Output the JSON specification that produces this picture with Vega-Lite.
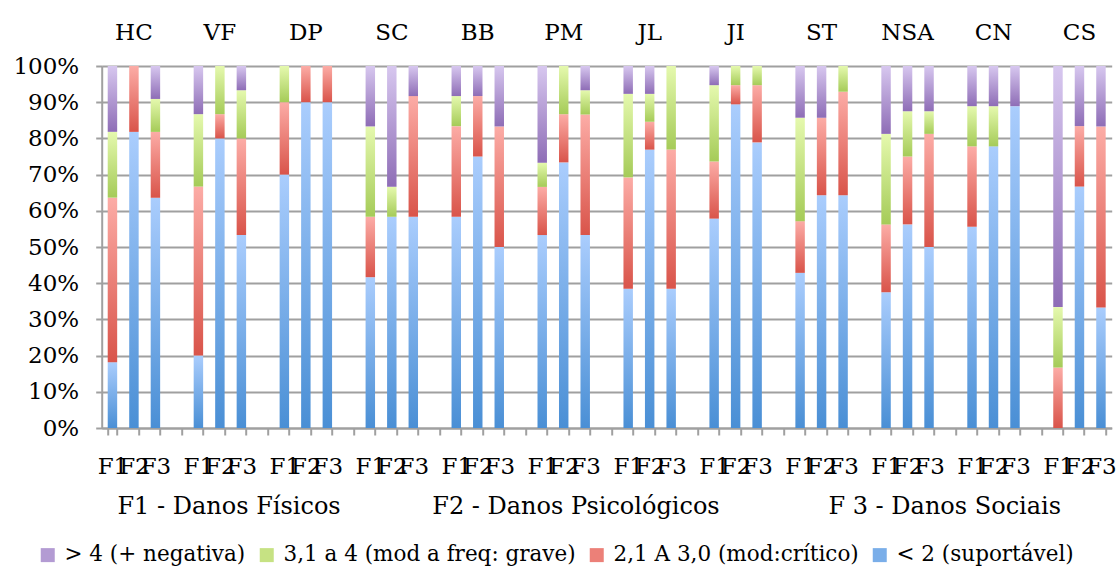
{
  "$schema": "https://vega.github.io/schema/vega-lite/v6.json",
  "width": 1010,
  "height": 362,
  "autosize": "none",
  "padding": {"left": 101.7, "top": 66, "right": 4.3, "bottom": 140},
  "background": "white",
  "config": {
    "view": {"stroke": null},
    "font": "DejaVu Serif"
  },
  "data": {
    "values": [
      {"slot": "HC|F1", "level": "< 2 (suportável)", "v": 18.2},
      {"slot": "HC|F1", "level": "2,1 A 3,0 (mod:crítico)", "v": 45.5},
      {"slot": "HC|F1", "level": "3,1 a 4 (mod a freq: grave)", "v": 18.2},
      {"slot": "HC|F1", "level": "> 4 (+ negativa)", "v": 18.2},
      {"slot": "HC|F2", "level": "< 2 (suportável)", "v": 81.8},
      {"slot": "HC|F2", "level": "2,1 A 3,0 (mod:crítico)", "v": 18.2},
      {"slot": "HC|F3", "level": "< 2 (suportável)", "v": 63.6},
      {"slot": "HC|F3", "level": "2,1 A 3,0 (mod:crítico)", "v": 18.2},
      {"slot": "HC|F3", "level": "3,1 a 4 (mod a freq: grave)", "v": 9.1},
      {"slot": "HC|F3", "level": "> 4 (+ negativa)", "v": 9.1},
      {"slot": "VF|F1", "level": "< 2 (suportável)", "v": 20},
      {"slot": "VF|F1", "level": "2,1 A 3,0 (mod:crítico)", "v": 46.7},
      {"slot": "VF|F1", "level": "3,1 a 4 (mod a freq: grave)", "v": 20},
      {"slot": "VF|F1", "level": "> 4 (+ negativa)", "v": 13.3},
      {"slot": "VF|F2", "level": "< 2 (suportável)", "v": 80},
      {"slot": "VF|F2", "level": "2,1 A 3,0 (mod:crítico)", "v": 6.7},
      {"slot": "VF|F2", "level": "3,1 a 4 (mod a freq: grave)", "v": 13.3},
      {"slot": "VF|F3", "level": "< 2 (suportável)", "v": 53.3},
      {"slot": "VF|F3", "level": "2,1 A 3,0 (mod:crítico)", "v": 26.7},
      {"slot": "VF|F3", "level": "3,1 a 4 (mod a freq: grave)", "v": 13.3},
      {"slot": "VF|F3", "level": "> 4 (+ negativa)", "v": 6.7},
      {"slot": "DP|F1", "level": "< 2 (suportável)", "v": 70},
      {"slot": "DP|F1", "level": "2,1 A 3,0 (mod:crítico)", "v": 20},
      {"slot": "DP|F1", "level": "3,1 a 4 (mod a freq: grave)", "v": 10},
      {"slot": "DP|F2", "level": "< 2 (suportável)", "v": 90},
      {"slot": "DP|F2", "level": "2,1 A 3,0 (mod:crítico)", "v": 10},
      {"slot": "DP|F3", "level": "< 2 (suportável)", "v": 90},
      {"slot": "DP|F3", "level": "2,1 A 3,0 (mod:crítico)", "v": 10},
      {"slot": "SC|F1", "level": "< 2 (suportável)", "v": 41.7},
      {"slot": "SC|F1", "level": "2,1 A 3,0 (mod:crítico)", "v": 16.7},
      {"slot": "SC|F1", "level": "3,1 a 4 (mod a freq: grave)", "v": 25},
      {"slot": "SC|F1", "level": "> 4 (+ negativa)", "v": 16.7},
      {"slot": "SC|F2", "level": "< 2 (suportável)", "v": 58.3},
      {"slot": "SC|F2", "level": "3,1 a 4 (mod a freq: grave)", "v": 8.3},
      {"slot": "SC|F2", "level": "> 4 (+ negativa)", "v": 33.3},
      {"slot": "SC|F3", "level": "< 2 (suportável)", "v": 58.3},
      {"slot": "SC|F3", "level": "2,1 A 3,0 (mod:crítico)", "v": 33.3},
      {"slot": "SC|F3", "level": "> 4 (+ negativa)", "v": 8.3},
      {"slot": "BB|F1", "level": "< 2 (suportável)", "v": 58.3},
      {"slot": "BB|F1", "level": "2,1 A 3,0 (mod:crítico)", "v": 25},
      {"slot": "BB|F1", "level": "3,1 a 4 (mod a freq: grave)", "v": 8.3},
      {"slot": "BB|F1", "level": "> 4 (+ negativa)", "v": 8.3},
      {"slot": "BB|F2", "level": "< 2 (suportável)", "v": 75},
      {"slot": "BB|F2", "level": "2,1 A 3,0 (mod:crítico)", "v": 16.7},
      {"slot": "BB|F2", "level": "> 4 (+ negativa)", "v": 8.3},
      {"slot": "BB|F3", "level": "< 2 (suportável)", "v": 50},
      {"slot": "BB|F3", "level": "2,1 A 3,0 (mod:crítico)", "v": 33.3},
      {"slot": "BB|F3", "level": "> 4 (+ negativa)", "v": 16.7},
      {"slot": "PM|F1", "level": "< 2 (suportável)", "v": 53.3},
      {"slot": "PM|F1", "level": "2,1 A 3,0 (mod:crítico)", "v": 13.3},
      {"slot": "PM|F1", "level": "3,1 a 4 (mod a freq: grave)", "v": 6.7},
      {"slot": "PM|F1", "level": "> 4 (+ negativa)", "v": 26.7},
      {"slot": "PM|F2", "level": "< 2 (suportável)", "v": 73.3},
      {"slot": "PM|F2", "level": "2,1 A 3,0 (mod:crítico)", "v": 13.3},
      {"slot": "PM|F2", "level": "3,1 a 4 (mod a freq: grave)", "v": 13.3},
      {"slot": "PM|F3", "level": "< 2 (suportável)", "v": 53.3},
      {"slot": "PM|F3", "level": "2,1 A 3,0 (mod:crítico)", "v": 33.3},
      {"slot": "PM|F3", "level": "3,1 a 4 (mod a freq: grave)", "v": 6.7},
      {"slot": "PM|F3", "level": "> 4 (+ negativa)", "v": 6.7},
      {"slot": "JL|F1", "level": "< 2 (suportável)", "v": 38.5},
      {"slot": "JL|F1", "level": "2,1 A 3,0 (mod:crítico)", "v": 30.8},
      {"slot": "JL|F1", "level": "3,1 a 4 (mod a freq: grave)", "v": 23.1},
      {"slot": "JL|F1", "level": "> 4 (+ negativa)", "v": 7.7},
      {"slot": "JL|F2", "level": "< 2 (suportável)", "v": 76.9},
      {"slot": "JL|F2", "level": "2,1 A 3,0 (mod:crítico)", "v": 7.7},
      {"slot": "JL|F2", "level": "3,1 a 4 (mod a freq: grave)", "v": 7.7},
      {"slot": "JL|F2", "level": "> 4 (+ negativa)", "v": 7.7},
      {"slot": "JL|F3", "level": "< 2 (suportável)", "v": 38.5},
      {"slot": "JL|F3", "level": "2,1 A 3,0 (mod:crítico)", "v": 38.5},
      {"slot": "JL|F3", "level": "3,1 a 4 (mod a freq: grave)", "v": 23.1},
      {"slot": "JI|F1", "level": "< 2 (suportável)", "v": 57.9},
      {"slot": "JI|F1", "level": "2,1 A 3,0 (mod:crítico)", "v": 15.8},
      {"slot": "JI|F1", "level": "3,1 a 4 (mod a freq: grave)", "v": 21.1},
      {"slot": "JI|F1", "level": "> 4 (+ negativa)", "v": 5.3},
      {"slot": "JI|F2", "level": "< 2 (suportável)", "v": 89.5},
      {"slot": "JI|F2", "level": "2,1 A 3,0 (mod:crítico)", "v": 5.3},
      {"slot": "JI|F2", "level": "3,1 a 4 (mod a freq: grave)", "v": 5.3},
      {"slot": "JI|F3", "level": "< 2 (suportável)", "v": 78.9},
      {"slot": "JI|F3", "level": "2,1 A 3,0 (mod:crítico)", "v": 15.8},
      {"slot": "JI|F3", "level": "3,1 a 4 (mod a freq: grave)", "v": 5.3},
      {"slot": "ST|F1", "level": "< 2 (suportável)", "v": 42.9},
      {"slot": "ST|F1", "level": "2,1 A 3,0 (mod:crítico)", "v": 14.3},
      {"slot": "ST|F1", "level": "3,1 a 4 (mod a freq: grave)", "v": 28.6},
      {"slot": "ST|F1", "level": "> 4 (+ negativa)", "v": 14.3},
      {"slot": "ST|F2", "level": "< 2 (suportável)", "v": 64.3},
      {"slot": "ST|F2", "level": "2,1 A 3,0 (mod:crítico)", "v": 21.4},
      {"slot": "ST|F2", "level": "> 4 (+ negativa)", "v": 14.3},
      {"slot": "ST|F3", "level": "< 2 (suportável)", "v": 64.3},
      {"slot": "ST|F3", "level": "2,1 A 3,0 (mod:crítico)", "v": 28.6},
      {"slot": "ST|F3", "level": "3,1 a 4 (mod a freq: grave)", "v": 7.1},
      {"slot": "NSA|F1", "level": "< 2 (suportável)", "v": 37.5},
      {"slot": "NSA|F1", "level": "2,1 A 3,0 (mod:crítico)", "v": 18.75},
      {"slot": "NSA|F1", "level": "3,1 a 4 (mod a freq: grave)", "v": 25},
      {"slot": "NSA|F1", "level": "> 4 (+ negativa)", "v": 18.75},
      {"slot": "NSA|F2", "level": "< 2 (suportável)", "v": 56.25},
      {"slot": "NSA|F2", "level": "2,1 A 3,0 (mod:crítico)", "v": 18.75},
      {"slot": "NSA|F2", "level": "3,1 a 4 (mod a freq: grave)", "v": 12.5},
      {"slot": "NSA|F2", "level": "> 4 (+ negativa)", "v": 12.5},
      {"slot": "NSA|F3", "level": "< 2 (suportável)", "v": 50},
      {"slot": "NSA|F3", "level": "2,1 A 3,0 (mod:crítico)", "v": 31.25},
      {"slot": "NSA|F3", "level": "3,1 a 4 (mod a freq: grave)", "v": 6.25},
      {"slot": "NSA|F3", "level": "> 4 (+ negativa)", "v": 12.5},
      {"slot": "CN|F1", "level": "< 2 (suportável)", "v": 55.6},
      {"slot": "CN|F1", "level": "2,1 A 3,0 (mod:crítico)", "v": 22.2},
      {"slot": "CN|F1", "level": "3,1 a 4 (mod a freq: grave)", "v": 11.1},
      {"slot": "CN|F1", "level": "> 4 (+ negativa)", "v": 11.1},
      {"slot": "CN|F2", "level": "< 2 (suportável)", "v": 77.8},
      {"slot": "CN|F2", "level": "3,1 a 4 (mod a freq: grave)", "v": 11.1},
      {"slot": "CN|F2", "level": "> 4 (+ negativa)", "v": 11.1},
      {"slot": "CN|F3", "level": "< 2 (suportável)", "v": 88.9},
      {"slot": "CN|F3", "level": "> 4 (+ negativa)", "v": 11.1},
      {"slot": "CS|F1", "level": "2,1 A 3,0 (mod:crítico)", "v": 16.7},
      {"slot": "CS|F1", "level": "3,1 a 4 (mod a freq: grave)", "v": 16.7},
      {"slot": "CS|F1", "level": "> 4 (+ negativa)", "v": 66.6},
      {"slot": "CS|F2", "level": "< 2 (suportável)", "v": 66.7},
      {"slot": "CS|F2", "level": "2,1 A 3,0 (mod:crítico)", "v": 16.7},
      {"slot": "CS|F2", "level": "> 4 (+ negativa)", "v": 16.6},
      {"slot": "CS|F3", "level": "< 2 (suportável)", "v": 33.3},
      {"slot": "CS|F3", "level": "2,1 A 3,0 (mod:crítico)", "v": 50},
      {"slot": "CS|F3", "level": "> 4 (+ negativa)", "v": 16.7}
    ]
  },
  "resolve": {"axis": {"x": "independent"}},
  "layer": [
    {
      "mark": {"type": "bar", "strokeWidth": 0},
      "encoding": {
        "x": {
          "field": "slot",
          "type": "nominal",
          "sort": null,
          "scale": {
            "domain": ["HC|F1","HC|F2","HC|F3","HC|","VF|F1","VF|F2","VF|F3","VF|","DP|F1","DP|F2","DP|F3","DP|","SC|F1","SC|F2","SC|F3","SC|","BB|F1","BB|F2","BB|F3","BB|","PM|F1","PM|F2","PM|F3","PM|","JL|F1","JL|F2","JL|F3","JL|","JI|F1","JI|F2","JI|F3","JI|","ST|F1","ST|F2","ST|F3","ST|","NSA|F1","NSA|F2","NSA|F3","NSA|","CN|F1","CN|F2","CN|F3","CN|","CS|F1","CS|F2","CS|F3"],
            "paddingInner": 0.56,
            "paddingOuter": 0.28
          },
          "axis": {
            "orient": "bottom",
            "labelExpr": "split(datum.value, '|')[1]",
            "labelAngle": 0,
            "labelOverlap": false,
            "labelBound": false,
            "labelFont": "DejaVu Serif",
            "labelFontSize": 23,
            "labelColor": "#000000",
            "labelPadding": 20,
            "tickBand": "extent",
            "tickSize": 7,
            "tickColor": "#a0a0a0",
            "tickWidth": 2,
            "domainColor": "#a0a0a0",
            "domainWidth": 2,
            "grid": false,
            "title": "\u200b\u00a0\u00a0F1 - Danos Físicos\u00a0\u00a0\u00a0\u00a0\u00a0\u00a0\u00a0\u00a0\u00a0\u00a0\u00a0\u00a0F2 - Danos Psicológicos\u00a0\u00a0\u00a0\u00a0\u00a0\u00a0\u00a0\u00a0\u00a0\u00a0\u00a0\u00a0\u00a0\u2009\u2009F 3 - Danos Sociais",
            "titleAnchor": "start",
            "titleFont": "DejaVu Serif",
            "titleFontSize": 24,
            "titleFontWeight": "normal",
            "titleColor": "#000000",
            "titlePadding": 16
          }
        },
        "y": {
          "field": "v",
          "type": "quantitative",
          "stack": "normalize",
          "scale": {"domain": [0, 1], "nice": false},
          "axis": {
            "values": [0, 0.1, 0.2, 0.3, 0.4, 0.5, 0.6, 0.7, 0.8, 0.9, 1],
            "format": ".0%",
            "title": null,
            "labelFont": "DejaVu Serif",
            "labelFontSize": 23,
            "labelColor": "#000000",
            "labelPadding": 17,
            "tickSize": 6,
            "tickColor": "#a0a0a0",
            "tickWidth": 2,
            "domainColor": "#a0a0a0",
            "domainWidth": 2,
            "gridColor": "#a0a0a0",
            "gridWidth": 2
          }
        },
        "fill": {
          "condition": [
            {"test": "datum.level === '< 2 (suportável)'", "value": {"gradient": "linear", "x1": 0, "y1": 0, "x2": 0, "y2": 1, "stops": [{"offset": 0, "color": "#aacdfd"}, {"offset": 1, "color": "#4a8fd5"}]}},
            {"test": "datum.level === '2,1 A 3,0 (mod:crítico)'", "value": {"gradient": "linear", "x1": 0, "y1": 0, "x2": 0, "y2": 1, "stops": [{"offset": 0, "color": "#fcaca6"}, {"offset": 1, "color": "#d9544a"}]}},
            {"test": "datum.level === '3,1 a 4 (mod a freq: grave)'", "value": {"gradient": "linear", "x1": 0, "y1": 0, "x2": 0, "y2": 1, "stops": [{"offset": 0, "color": "#e5f9ae"}, {"offset": 1, "color": "#a5cb58"}]}}
          ],
          "value": {"gradient": "linear", "x1": 0, "y1": 0, "x2": 0, "y2": 1, "stops": [{"offset": 0, "color": "#d7c7ef"}, {"offset": 1, "color": "#8e6db6"}]}
        }
      }
    },
    {
      "mark": {"type": "bar", "opacity": 0},
      "encoding": {
        "x": {
          "field": "slot",
          "type": "nominal",
          "sort": null,
          "scale": {
            "domain": ["HC|F1","HC|F2","HC|F3","HC|","VF|F1","VF|F2","VF|F3","VF|","DP|F1","DP|F2","DP|F3","DP|","SC|F1","SC|F2","SC|F3","SC|","BB|F1","BB|F2","BB|F3","BB|","PM|F1","PM|F2","PM|F3","PM|","JL|F1","JL|F2","JL|F3","JL|","JI|F1","JI|F2","JI|F3","JI|","ST|F1","ST|F2","ST|F3","ST|","NSA|F1","NSA|F2","NSA|F3","NSA|","CN|F1","CN|F2","CN|F3","CN|","CS|F1","CS|F2","CS|F3"],
            "paddingInner": 0.56,
            "paddingOuter": 0.28
          },
          "axis": {
            "orient": "top",
            "labelExpr": "split(datum.value, '|')[1] == 'F2' ? split(datum.value, '|')[0] : ''",
            "labelAngle": 0,
            "labelOverlap": false,
            "labelBound": false,
            "labelFont": "DejaVu Serif",
            "labelFontSize": 23,
            "labelColor": "#000000",
            "labelPadding": 22,
            "ticks": false,
            "domain": false,
            "grid": false,
            "title": null
          }
        },
        "color": {
          "field": "level",
          "type": "nominal",
          "scale": {
            "domain": ["> 4 (+ negativa)", "3,1 a 4 (mod a freq: grave)", "2,1 A 3,0 (mod:crítico)", "< 2 (suportável)"],
            "range": ["#b39bd3", "#c6e283", "#ec8078", "#7aaee9"]
          },
          "legend": {
            "orient": "none",
            "legendX": -64.7,
            "legendY": 478,
            "direction": "horizontal",
            "padding": 0,
            "title": null,
            "symbolType": "square",
            "symbolSize": 196,
            "symbolStrokeWidth": 0,
            "symbolOpacity": 1,
            "labelFont": "DejaVu Serif",
            "labelFontSize": 21.5,
            "labelColor": "#000000",
            "labelLimit": 400,
            "labelOffset": 6,
            "columnPadding": 10
          }
        }
      }
    }
  ]
}
